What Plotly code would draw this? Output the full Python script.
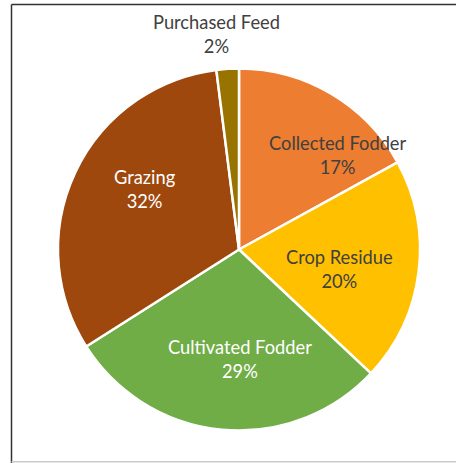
import plotly.graph_objects as go

categories = ["Collected Fodder", "Crop Residue", "Cultivated Fodder", "Grazing", "Purchased Feed"]
values = [17, 20, 29, 32, 2]
colors = ["#ED7D31", "#FFC000", "#70AD47", "#9E480E", "#997300"]
label_colors = ["#404040", "#404040", "#FFFFFF", "#FFFFFF", "#404040"]
# label anchor positions (pixels in the 456x463 canvas)
label_pos = [(338, 155), (339, 269), (240, 359), (145, 189), (216, 34)]

W, H = 456, 463
cx, cy, r = 239, 249.5, 181

fig = go.Figure(go.Pie(
    labels=categories,
    values=values,
    marker=dict(colors=colors, line=dict(color="#FFFFFF", width=2.5)),
    sort=False,
    direction="clockwise",
    rotation=0,
    textinfo="none",
    hoverinfo="label+percent",
    showlegend=False,
    domain=dict(x=[(cx - r) / W, (cx + r) / W], y=[(H - cy - r) / H, (H - cy + r) / H]),
))

total = sum(values)
annotations = []
for cat, v, col, (px, py) in zip(categories, values, label_colors, label_pos):
    annotations.append(dict(
        x=px / W, y=(H - py) / H, xref="paper", yref="paper",
        text=f"{cat}<br>{round(100 * v / total)}%",
        showarrow=False, align="center",
        font=dict(family="Lato", size=18.3, color=col),
        xanchor="center", yanchor="middle",
    ))

shapes = [
    dict(type="line", xref="paper", yref="paper", x0=11.5 / W, x1=1, y0=(H - 4.5) / H, y1=(H - 4.5) / H,
         line=dict(color="#333333", width=1.5)),
    dict(type="line", xref="paper", yref="paper", x0=11.5 / W, x1=11.5 / W, y0=0, y1=(H - 4.5) / H,
         line=dict(color="#333333", width=1.5)),
    dict(type="line", xref="paper", yref="paper", x0=11.5 / W, x1=1, y0=1.2 / H, y1=1.2 / H,
         line=dict(color="#CCCCCC", width=1.5)),
]

fig.update_layout(
    width=W, height=H,
    margin=dict(l=0, r=0, t=0, b=0),
    paper_bgcolor="#FFFFFF",
    plot_bgcolor="#FFFFFF",
    annotations=annotations,
    shapes=shapes,
)

fig.write_html("out.html")
